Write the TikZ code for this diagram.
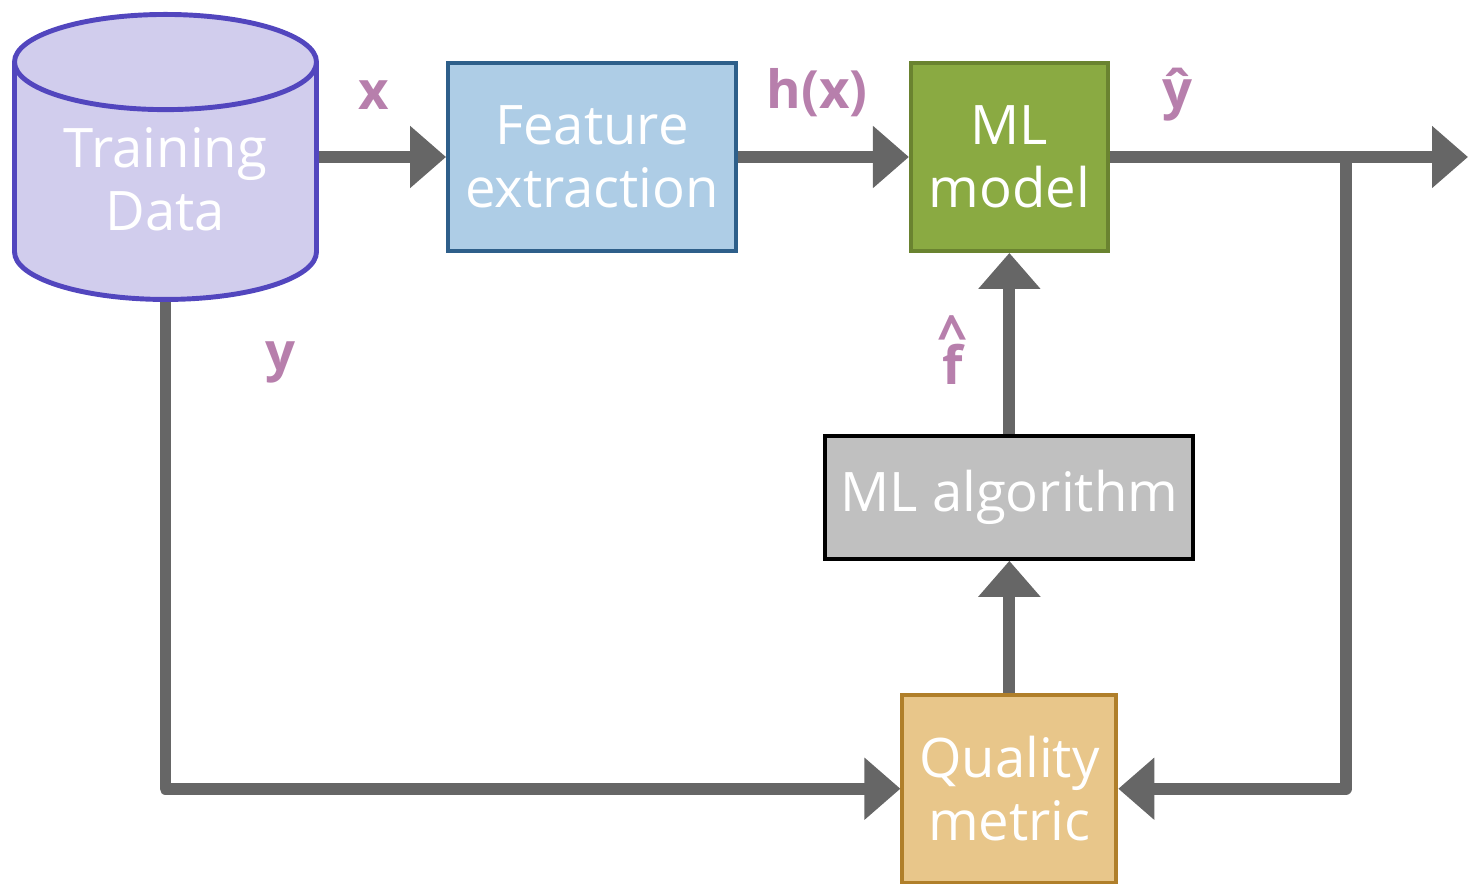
\documentclass[tikz,border=0pt]{standalone}
\usepackage{fontspec}
\setmainfont{Open Sans}
\usepackage{tikz}
\usetikzlibrary{shapes.geometric,arrows.meta,positioning}
\definecolor{datafill}{RGB}{209,205,237}
\definecolor{dataline}{RGB}{82,70,190}
\definecolor{featfill}{RGB}{174,205,230}
\definecolor{featline}{RGB}{46,95,138}
\definecolor{modelfill}{RGB}{138,170,66}
\definecolor{modelline}{RGB}{106,131,48}
\definecolor{algofill}{RGB}{192,192,192}
\definecolor{qualfill}{RGB}{232,198,138}
\definecolor{qualline}{RGB}{176,127,42}
\definecolor{arrowgray}{RGB}{102,102,102}
\definecolor{labelpink}{RGB}{183,127,172}
\begin{document}
\begin{tikzpicture}[
        box/.style={rectangle, draw, line width=1.1pt, align=center, text=white, font=\fontsize{15.5}{18}\selectfont},
        arrow/.style={-{Triangle[length=3.6mm,width=6mm]}, line width=3.4pt, arrowgray, line join=round},
        lbl/.style={font=\fontsize{15}{18}\selectfont\bfseries, text=labelpink}
    ]
        \useasboundingbox (0,0) rectangle (14.68,-8.84);

        % Training data
        \node[box, cylinder, shape border rotate=90, aspect=0.42, draw=dataline, fill=datafill, line width=1.4pt, minimum width=3.02cm, minimum height=2.85cm, inner ysep=0pt, text depth=0.24cm, anchor=north] (data) at (1.655,-0.12) {Training\\Data};

        % Feature extraction and model
        \node[box, draw=featline, fill=featfill, minimum width=2.88cm, minimum height=1.88cm] (feat) at (5.92,-1.57) {Feature\\extraction};
        \node[box, draw=modelline, fill=modelfill, minimum width=1.97cm, minimum height=1.88cm, right=1.71cm of feat] (model) {ML\\model};

        % Learning loop
        \node[box, draw=black, fill=algofill, minimum width=3.68cm, minimum height=1.23cm, below=1.81cm of model] (algo) {ML algorithm};
        \node[box, draw=qualline, fill=qualfill, minimum width=2.14cm, minimum height=1.88cm, below=1.32cm of algo] (qual) {Quality\\metric};

        % Output
        \coordinate (out) at (14.68,-1.57);
        \coordinate (split) at (13.46,-1.57);

        % Arrows
        \draw[arrow] (data.east |- feat.west) -- (feat.west);
        \draw[arrow] (feat) -- (model);
        \draw[arrow] (model) -- (out);
        \draw[arrow] (split) |- (qual.east);
        \draw[arrow] (data.south) |- (qual.west);
        \draw[arrow] (qual) -- (algo);
        \draw[arrow] (algo) -- (model);

        % Labels
        \node[lbl] (xlab) at (3.74,-0.95) {x};
        \node[lbl] (hlab) at (8.17,-0.93) {h(x)};
        \node[lbl] (yhatlab) at (11.77,-0.95) {ŷ};
        \node[lbl] (ylab) at (2.80,-3.62) {y};
        \node[lbl, align=center] (fhatlab) at (9.53,-3.50) {\textasciicircum\\[-9pt]f};
    \end{tikzpicture}
\end{document}
